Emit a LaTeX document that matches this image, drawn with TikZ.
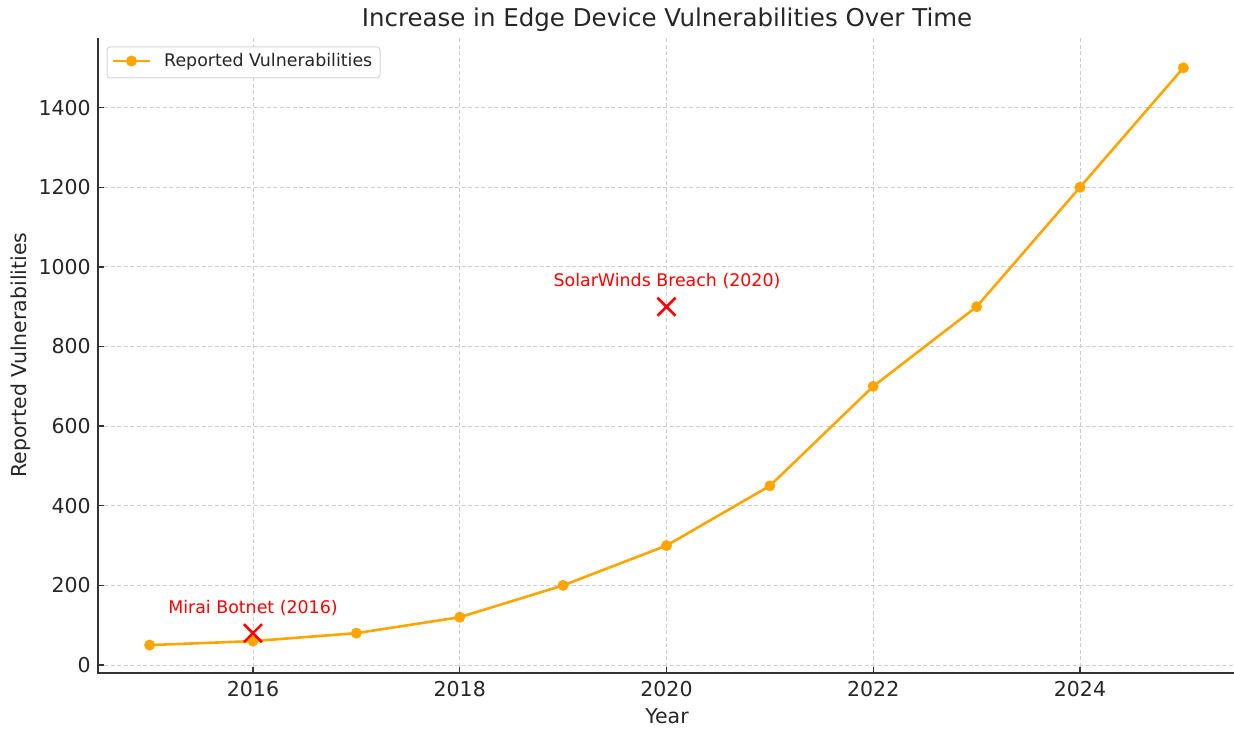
\documentclass[tikz,border=0pt]{standalone}
\usepackage{fontspec}
\setmainfont{DejaVu Sans}
\definecolor{lineorange}{HTML}{FFA500}
\definecolor{txt}{HTML}{262626}
\definecolor{gridc}{HTML}{CDCDCD}
\definecolor{spinec}{HTML}{333333}
\definecolor{legborder}{HTML}{D5D5D5}
\begin{document}
\begin{tikzpicture}[x=1pt,y=1pt,
  gridline/.style={draw=gridc, line width=0.9pt, dash pattern=on 4pt off 2.5pt},
  spine/.style={draw=spinec, line width=1.4pt},
  ticklabel/.style={font=\fontsize{20.5}{24}\selectfont, text=txt, inner sep=0pt},
  axislabel/.style={font=\fontsize{20.5}{24}\selectfont, text=txt, inner sep=0pt},
  titlelabel/.style={font=\fontsize{24.5}{28}\selectfont, text=txt, inner sep=0pt},
  smalllabel/.style={font=\fontsize{17.4}{20}\selectfont, inner sep=0pt},
  series/.style={draw=lineorange, line width=2.6pt, line join=round},
  dot/.style={circle, fill=lineorange, minimum size=11pt, inner sep=0pt},
  crossmark/.style={draw=red, line width=2.6pt}]
\path[use as bounding box] (0,0) rectangle (1234,729);

% plot area in data units: x = year - 2015, y = reported count
\begin{scope}[shift={(149.6pt,64pt)}, x=103.375pt, y=0.3981pt]
  % grid
  \foreach \v in {0,200,...,1400}
    \draw[gridline] (-0.5,\v) -- (10.5,\v);
  \foreach \t in {1,3,5,7,9}
    \draw[gridline] (\t,-20.1) -- (\t,1575);

  % spines
  \draw[spine] (-0.5,1575) -- (-0.5,-20.1) -- (10.5,-20.1);

  % y ticks and labels
  \foreach \v in {0,200,...,1400} {
    \draw[spine] (-0.5,\v) -- ++(6pt,0);
    \node[ticklabel, anchor=east, xshift=-7pt] (yl\v) at (-0.5,\v) {\v};
  }
  % x ticks and labels
  \foreach \t/\yr in {1/2016,3/2018,5/2020,7/2022,9/2024} {
    \draw[spine] (\t,-20.1) -- ++(0,6pt);
    \node[ticklabel, anchor=north, yshift=-8pt] (xl\yr) at (\t,-20.1) {\yr};
  }

  % data series
  \foreach \t/\v in {0/50,1/60,2/80,3/120,4/200,5/300,6/450,7/700,8/900,9/1200,10/1500}
    \coordinate (d\t) at (\t,\v);
  \draw[series] (d0) -- (d1) -- (d2) -- (d3) -- (d4) -- (d5) -- (d6) -- (d7) -- (d8) -- (d9) -- (d10);
  \foreach \t in {0,...,10}
    \node[dot] (m\t) at (d\t) {};

  % event markers
  \coordinate (mirai) at (1,80);
  \coordinate (solar) at (5,900);
  \foreach \c in {mirai,solar}
    \draw[crossmark] ([shift={(-9pt,-9pt)}]\c) -- ([shift={(9pt,9pt)}]\c)
                     ([shift={(-9pt,9pt)}]\c) -- ([shift={(9pt,-9pt)}]\c);
\end{scope}

% event labels
\node[smalllabel, text=red, anchor=base] (miraitxt) at (253,116) {Mirai Botnet (2016)};
\node[smalllabel, text=red, anchor=base] (solartxt) at (667,442) {SolarWinds Breach (2020)};

% axis labels and title
\node[axislabel] (xlab) at (667,13) {Year};
\node[axislabel, rotate=90, anchor=base] (ylab) at (27,374) {Reported Vulnerabilities};
\node[titlelabel, anchor=base] (title) at (667,702) {Increase in Edge Device Vulnerabilities Over Time};

% legend
\draw[draw=legborder, fill=white, line width=1pt, rounded corners=3pt] (107,651) rectangle (380,682);
\coordinate (legA) at (113,668);
\coordinate (legB) at (150,668);
\draw[series] (legA) -- (legB);
\node[dot] (legdot) at (131.5,668) {};
\node[smalllabel, text=txt, anchor=base west] (legtxt) at (164,662) {Reported Vulnerabilities};
\end{tikzpicture}
\end{document}
